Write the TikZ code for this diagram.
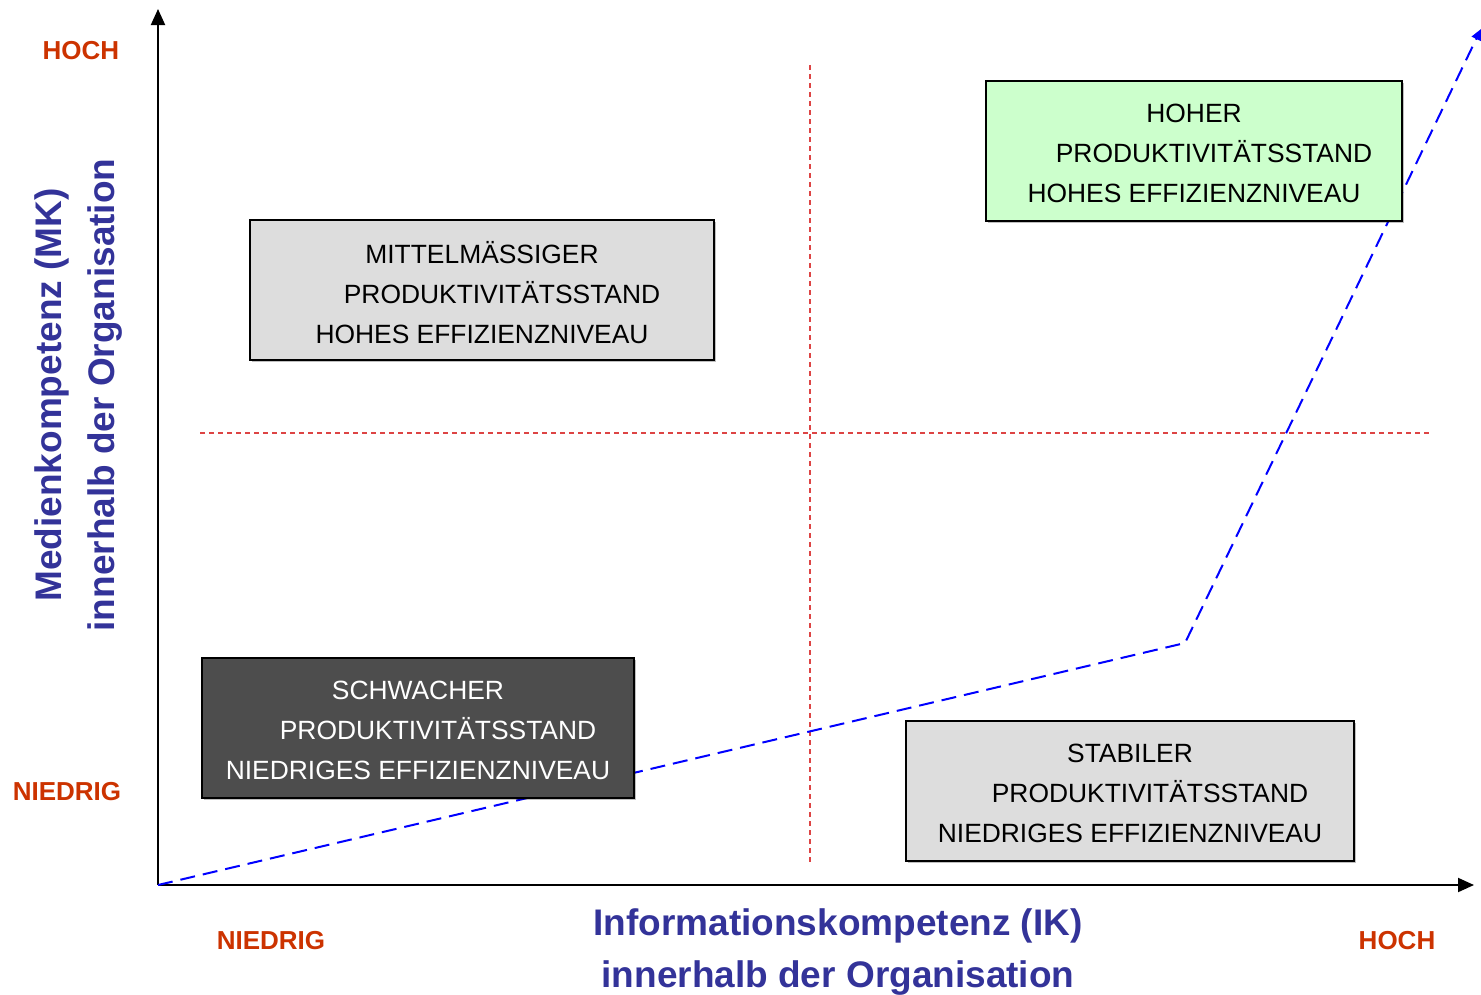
\documentclass[tikz,border=0pt]{standalone}
\usepackage{fontspec}
\setmainfont{Liberation Sans}
\usetikzlibrary{arrows.meta,shadows}
\definecolor{lvl}{HTML}{CC3300}
\definecolor{ttl}{HTML}{333399}
\definecolor{boxgray}{HTML}{DDDDDD}
\definecolor{boxgreen}{HTML}{CCFFCC}
\definecolor{boxdark}{HTML}{4D4D4D}
\definecolor{trendblue}{HTML}{0000FF}
\definecolor{divider}{HTML}{DD4444}

\tikzset{
  axisline/.style={line width=2pt, black, -{Triangle[length=16pt,width=14pt]}},
  trendline/.style={line width=2pt, trendblue, dash pattern=on 15pt off 8pt,
    -{Triangle[length=11pt,width=10pt]}},
  dividerline/.style={line width=1.2pt, divider, dash pattern=on 5pt off 4pt},
  quad/.style={draw=black, line width=2pt, rectangle,
    minimum width=#1, minimum height=140pt, inner sep=0pt,
    drop shadow={shadow xshift=2pt, shadow yshift=-2pt, fill=black, opacity=0.25}},
  quadtext/.style={align=center, inner sep=0pt,
    font=\fontsize{26.4}{40}\selectfont},
  level/.style={text=lvl, font=\fontsize{26}{30}\selectfont\bfseries},
  axistitle/.style={text=ttl, font=\fontsize{37}{44}\selectfont\bfseries, inner sep=0pt},
}

\begin{document}
\begin{tikzpicture}[x=1pt,y=-1pt]
\useasboundingbox (0,0) rectangle (1481,994);

% axes
\coordinate (O) at (158,885);
\coordinate (ytop) at (158,9);
\coordinate (xend) at (1474,885);
\draw[axisline] (O) -- (ytop);
\draw[axisline] (O) -- (xend);

% quadrant dividers
\coordinate (vtop) at (810,65);
\coordinate (vbot) at (810,865);
\coordinate (hleft) at (200,433);
\coordinate (hright) at (1430,433);
\draw[dividerline] (vtop) -- (vbot);
\draw[dividerline] (hleft) -- (hright);

% development path
\coordinate (knee) at (1185,643);
\coordinate (tip) at (1481,29);
\draw[trendline] (O) -- (knee) -- (tip);

% quadrant boxes
\node[quad=464pt, fill=boxgray] (mid) at (482,290) {};
\node[quadtext] (midtxt) at ([yshift=-2.5pt]mid.center)
  {MITTELMÄSSIGER\\\hspace*{40pt}PRODUKTIVITÄTSSTAND\\HOHES EFFIZIENZNIVEAU};
\node[quad=416pt, fill=boxgreen] (high) at (1194,151) {};
\node[quadtext] (hightxt) at ([yshift=-2.5pt]high.center)
  {HOHER\\\hspace*{40pt}PRODUKTIVITÄTSSTAND\\HOHES EFFIZIENZNIVEAU};
\node[quad=432pt, fill=boxdark] (weak) at (418,727.5) {};
\node[quadtext, text=white] (weaktxt) at ([yshift=-2.5pt]weak.center)
  {SCHWACHER\\\hspace*{40pt}PRODUKTIVITÄTSSTAND\\NIEDRIGES EFFIZIENZNIVEAU};
\node[quad=448pt, fill=boxgray] (stable) at (1130,791) {};
\node[quadtext] (stabletxt) at ([yshift=-2.5pt]stable.center)
  {STABILER\\\hspace*{40pt}PRODUKTIVITÄTSSTAND\\NIEDRIGES EFFIZIENZNIVEAU};

% level markers
\node[level] (yhigh) at (81,51) {HOCH};
\node[level] (ylow) at (67,792) {NIEDRIG};
\node[level] (xlow) at (271,941) {NIEDRIG};
\node[level] (xhigh) at (1397,941) {HOCH};

% axis titles
\node[axistitle] (xt1) at (838,926) {Informationskompetenz (IK)};
\node[axistitle] (xt2) at (838,978) {innerhalb der Organisation};
\node[axistitle, rotate=90] (yt1) at (52,395) {Medienkompetenz (MK)};
\node[axistitle, rotate=90] (yt2) at (105,395) {innerhalb der Organisation};
\end{tikzpicture}
\end{document}
